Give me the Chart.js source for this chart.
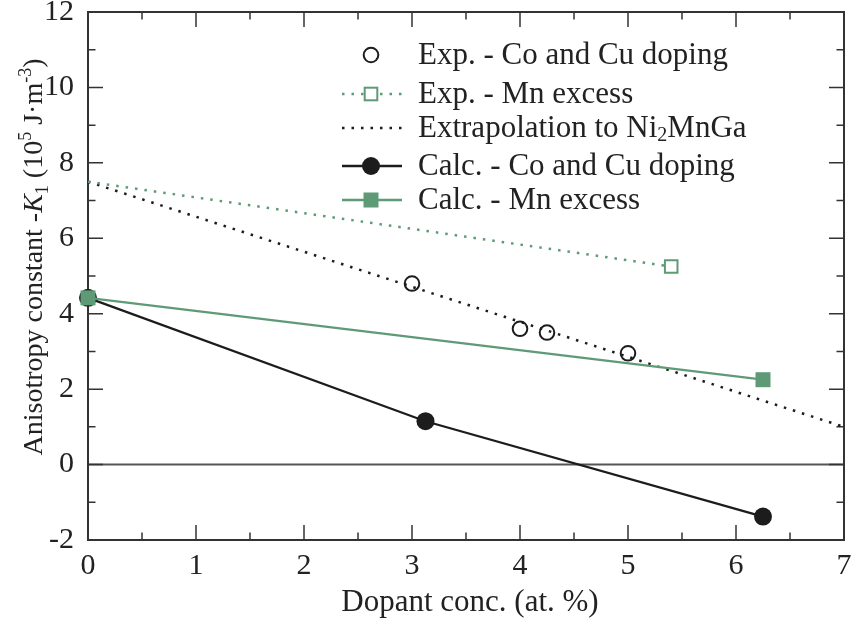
<!DOCTYPE html>
<html>
<head>
<meta charset="utf-8">
<script src="https://cdn.jsdelivr.net/npm/chart.js@4.4.1/dist/chart.umd.min.js"></script>
<style>
  html, body { margin: 0; padding: 0; background: #fff; }
  canvas { display: block; }
</style>
</head>
<body>
<canvas id="anisotropyChart" width="851" height="622"></canvas>
<script>
// measured points, x in at.% dopant, y in 10^5 J/m^3
const expCoCuX = [3, 4, 4.25, 5];
const expCoCuY = [4.8, 3.6, 3.5, 2.95];
const expMnX = [0, 5.4];
const expMnY = [7.5, 5.25];
const extrapX = [0, 7];
const extrapY = [7.5, 1.0];
const calcCoCuX = [0, 3.125, 6.25];
const calcCoCuY = [4.42, 1.15, -1.38];
const calcMnX = [0, 6.25];
const calcMnY = [4.42, 2.25];

const xTicks = [0, 1, 2, 3, 4, 5, 6, 7];
const yTicks = [-2, 0, 2, 4, 6, 8, 10, 12];

const GREEN = '#5f9a77';
const BLACK = '#1c1c1c';
const FONT = '"Liberation Serif", "Times New Roman", serif';

const pts = (xs, ys) => xs.map((x, i) => ({ x: x, y: ys[i] }));

// text made of plain / italic / sub / sup pieces, left aligned at x
function segFont(s, size) {
    const sz = (s.sub || s.sup) ? Math.round(size * 0.65) : size;
    return (s.it ? 'italic ' : '') + sz + 'px ' + FONT;
}
function richWidth(ctx, segs, size) {
    let w = 0;
    segs.forEach(s => {
        ctx.font = segFont(s, size);
        w += ctx.measureText(s.t).width;
    });
    return w;
}
function drawRich(ctx, segs, x, y, size) {
    segs.forEach(s => {
        ctx.font = segFont(s, size);
        const dy = s.sub ? size * 0.22 : s.sup ? -size * 0.38 : 0;
        ctx.fillText(s.t, x, y + dy);
        x += ctx.measureText(s.t).width;
    });
}

const yTitle = [
    { t: 'Anisotropy constant -' }, { t: 'K', it: true }, { t: '1', sub: true },
    { t: ' (10' }, { t: '5', sup: true }, { t: ' J\u00b7m' }, { t: '-3', sup: true }, { t: ')' }
];
const xTitle = [{ t: 'Dopant conc. (at. %)' }];

const legendRows = [
    { segs: [{ t: 'Exp. - Co and Cu doping' }], line: null, marker: 'openCircle', color: BLACK },
    { segs: [{ t: 'Exp. - Mn excess' }], line: 'dot', marker: 'openSquare', color: GREEN },
    { segs: [{ t: 'Extrapolation to Ni' }, { t: '2', sub: true }, { t: 'MnGa' }], line: 'dot', marker: null, color: BLACK },
    { segs: [{ t: 'Calc. - Co and Cu doping' }], line: 'solid', marker: 'circle', color: BLACK },
    { segs: [{ t: 'Calc. - Mn excess' }], line: 'solid', marker: 'square', color: GREEN }
];

const framePlugin = {
    id: 'frameAndTicks',
    beforeDatasetsDraw(chart) {
        const { ctx, chartArea: a, scales: { x, y } } = chart;
        ctx.save();
        // zero line
        ctx.strokeStyle = '#555';
        ctx.lineWidth = 2;
        ctx.beginPath();
        ctx.moveTo(a.left, y.getPixelForValue(0));
        ctx.lineTo(a.right, y.getPixelForValue(0));
        ctx.stroke();

        // inward ticks on all four sides
        ctx.strokeStyle = '#333';
        ctx.lineWidth = 1.5;
        ctx.beginPath();
        for (let v = 0; v <= 7.001; v += 0.5) {
            const px = x.getPixelForValue(v);
            const len = Number.isInteger(v) ? 15 : 7.5;
            ctx.moveTo(px, a.bottom); ctx.lineTo(px, a.bottom - len);
            ctx.moveTo(px, a.top); ctx.lineTo(px, a.top + len);
        }
        for (let v = -2; v <= 12; v += 1) {
            const py = y.getPixelForValue(v);
            const len = v % 2 === 0 ? 15 : 7.5;
            ctx.moveTo(a.left, py); ctx.lineTo(a.left + len, py);
            ctx.moveTo(a.right, py); ctx.lineTo(a.right - len, py);
        }
        ctx.stroke();
        ctx.lineWidth = 2;
        ctx.strokeRect(a.left, a.top, a.right - a.left, a.bottom - a.top);

        // axis titles
        ctx.fillStyle = '#222';
        ctx.textBaseline = 'alphabetic';
        const tw = richWidth(ctx, xTitle, 31);
        drawRich(ctx, xTitle, 470 - tw / 2, 611, 31);

        const yw = richWidth(ctx, yTitle, 28);
        ctx.translate(42, 257);
        ctx.rotate(-Math.PI / 2);
        drawRich(ctx, yTitle, -yw / 2, 0, 28);
        ctx.restore();
    },
    afterDraw(chart) {
        const { ctx } = chart;
        ctx.save();
        const rowY = [55, 94, 128, 166, 200];
        const x0 = 342, x1 = 402, mx = 371, tx = 418;
        legendRows.forEach((r, i) => {
            const ry = rowY[i];
            ctx.strokeStyle = r.color;
            ctx.fillStyle = r.color;
            if (r.line) {
                ctx.lineWidth = 2.5;
                ctx.setLineDash(r.line === 'dot' ? [2.5, 7] : []);
                ctx.beginPath();
                ctx.moveTo(x0, ry); ctx.lineTo(x1, ry);
                ctx.stroke();
                ctx.setLineDash([]);
            }
            ctx.lineWidth = 2;
            if (r.marker === 'openCircle') {
                ctx.beginPath(); ctx.arc(mx, ry, 7.3, 0, Math.PI * 2); ctx.stroke();
            } else if (r.marker === 'openSquare') {
                ctx.fillStyle = '#fff';
                ctx.fillRect(mx - 6.3, ry - 6.3, 12.6, 12.6);
                ctx.strokeRect(mx - 6.3, ry - 6.3, 12.6, 12.6);
            } else if (r.marker === 'circle') {
                ctx.beginPath(); ctx.arc(mx, ry, 9, 0, Math.PI * 2); ctx.fill();
            } else if (r.marker === 'square') {
                ctx.fillRect(mx - 7.5, ry - 7.5, 15, 15);
            }
            ctx.fillStyle = '#222';
            ctx.textBaseline = 'middle';
            drawRich(ctx, r.segs, tx, ry + 1, 31);
        });
        ctx.restore();
    }
};

new Chart(document.getElementById('anisotropyChart'), {
    type: 'scatter',
    data: {
        datasets: [
            {
                label: 'Calc. - Mn excess',
                data: pts(calcMnX, calcMnY),
                showLine: true,
                borderColor: GREEN,
                backgroundColor: GREEN,
                borderWidth: 2.2,
                pointStyle: 'rect',
                pointRadius: 10.6,
                pointBorderWidth: 0,
                clip: false
            },
            {
                label: 'Calc. - Co and Cu doping',
                data: pts(calcCoCuX, calcCoCuY),
                showLine: true,
                borderColor: BLACK,
                backgroundColor: BLACK,
                borderWidth: 2.2,
                pointStyle: 'circle',
                pointRadius: 9,
                pointBorderWidth: 0,
                clip: false
            },
            {
                label: 'Exp. - Co and Cu doping',
                data: pts(expCoCuX, expCoCuY),
                showLine: false,
                borderColor: BLACK,
                backgroundColor: 'rgba(0,0,0,0)',
                pointStyle: 'circle',
                pointRadius: 7.3,
                pointBorderWidth: 2,
                clip: false
            },
            {
                label: 'Exp. - Mn excess',
                data: pts(expMnX, expMnY),
                showLine: true,
                borderColor: GREEN,
                backgroundColor: '#fff',
                borderWidth: 2.5,
                borderDash: [2.5, 7],
                pointStyle: 'rect',
                pointRadius: [0, 8.9],
                pointBorderWidth: 2,
                clip: false
            },
            {
                label: 'Extrapolation to Ni2MnGa',
                data: pts(extrapX, extrapY),
                showLine: true,
                borderColor: BLACK,
                borderWidth: 2.5,
                borderDash: [2.5, 7],
                pointRadius: 0,
                clip: false
            }
        ]
    },
    options: {
        responsive: false,
        animation: false,
        layout: { autoPadding: false, padding: { top: 12, right: 7, left: 0, bottom: 0 } },
        plugins: {
            legend: { display: false },
            tooltip: { enabled: false }
        },
        scales: {
            x: {
                type: 'linear',
                min: 0,
                max: 7,
                afterFit: s => { s.height = 82; s.paddingLeft = 0; s.paddingRight = 0; },
                afterBuildTicks: s => { s.ticks = xTicks.map(v => ({ value: v })); },
                grid: { display: false, drawTicks: false },
                border: { display: false },
                ticks: { color: '#222', padding: 8, font: { family: FONT, size: 30 } }
            },
            y: {
                type: 'linear',
                min: -2,
                max: 12,
                afterFit: s => { s.width = 88; s.paddingTop = 0; s.paddingBottom = 0; },
                afterBuildTicks: s => { s.ticks = yTicks.map(v => ({ value: v })); },
                grid: { display: false, drawTicks: false },
                border: { display: false },
                ticks: { color: '#222', padding: 14, font: { family: FONT, size: 30 } }
            }
        }
    },
    plugins: [framePlugin]
});
</script>
</body>
</html>
